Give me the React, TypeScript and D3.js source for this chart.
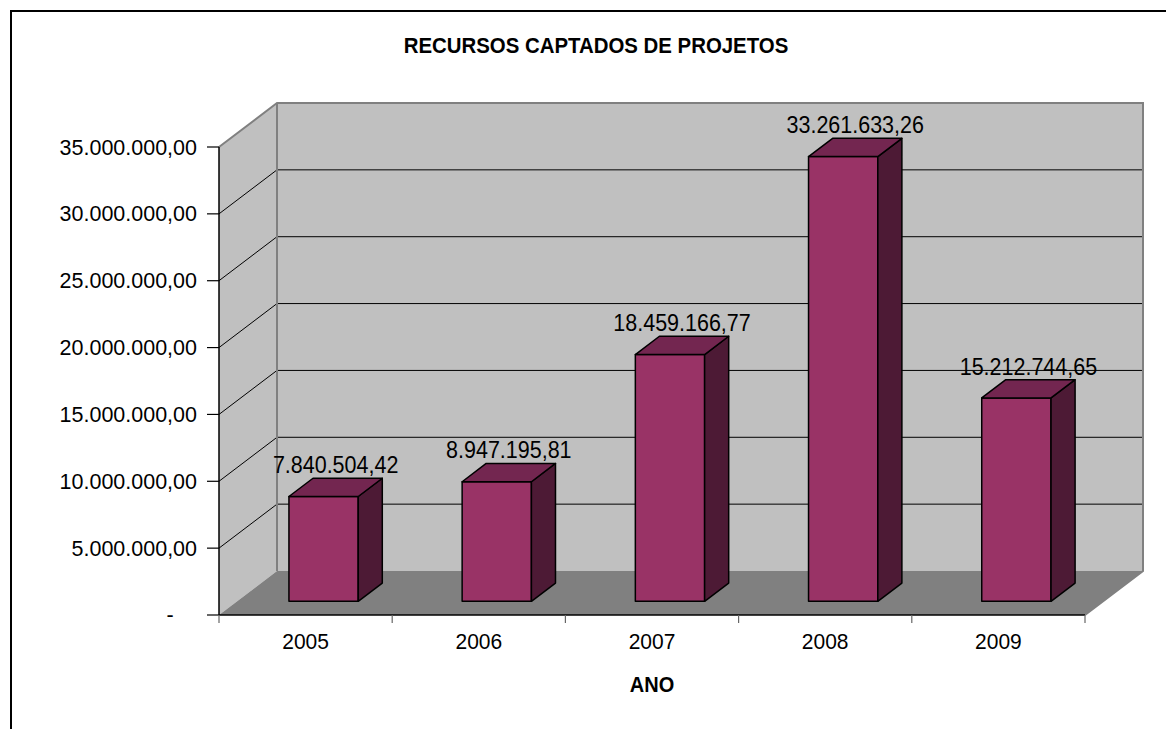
import React from 'react';
import * as d3 from 'd3';

// chart data
const years = ['2005', '2006', '2007', '2008', '2009'];
const valores = [7840504.42, 8947195.81, 18459166.77, 33261633.26, 15212744.65];
const titulo = 'RECURSOS CAPTADOS DE PROJETOS';
const tituloEixoX = 'ANO';

const W = 1166;
const H = 729;
const FONT = '"Liberation Sans", Arial, sans-serif';

// pt-BR number format: 35.000.000,00
const br = d3.formatLocale({ decimal: ',', thousands: '.', grouping: [3], currency: ['R$', ''] });
const fmt = br.format(',.2f');

const App = () => {
  // front plane of the 3D box
  const left = 219;
  const right = 1085;
  const depthX = 58;
  const depthY = -44;

  const y = d3.scaleLinear().domain([0, 35000000]).range([615, 147]);
  const x = d3.scaleBand().domain(years).range([left, right]).paddingInner(0.6).paddingOuter(0.3);
  const step = x.step();
  const bw = x.bandwidth();

  // depth of the bars inside the floor (0 = front, 1 = back)
  const d0 = 0.31;
  const d1 = 0.725;

  const proj = (px, v, d) => [px + d * depthX, y(v) + d * depthY];
  const poly = (pts) => pts.map(p => p.join(',')).join(' ');

  const ticks = y.ticks(7);
  const yMax = y.domain()[1];
  const base = y(0);

  return (
    <svg width={W} height={H} style={{ position: 'absolute', left: 0, top: 0, background: '#fff' }}
      fontFamily={FONT}>
      <rect x={0} y={0} width={W} height={H} fill="#fff" />
      {/* outer frame */}
      <path d={`M11,${H + 5}V11H${W + 5}`} fill="none" stroke="#000" strokeWidth={2} />

      {/* title */}
      <text transform={`translate(596,52.5) scale(1,1.06)`} textAnchor="middle" fontWeight="bold" fontSize={20.4}>
        {titulo}
      </text>

      {/* walls and floor */}
      <polygon points={poly([proj(left, 0, 0), proj(left, yMax, 0), proj(left, yMax, 1), proj(left, 0, 1)])}
        fill="#c0c0c0" />
      <polygon points={poly([proj(left, 0, 1), proj(left, yMax, 1), proj(right, yMax, 1), proj(right, 0, 1)])}
        fill="#c0c0c0" />
      <polygon points={poly([proj(left, 0, 0), proj(right, 0, 0), proj(right, 0, 1), proj(left, 0, 1)])}
        fill="#808080" />

      {/* gridlines */}
      {ticks.filter(t => t > 0 && t < yMax).map(t => (
        <g key={t}>
          <line x1={proj(left, t, 0)[0]} y1={proj(left, t, 0)[1]} x2={proj(left, t, 1)[0]} y2={proj(left, t, 1)[1]}
            stroke="#000" strokeWidth={1} />
          <line x1={proj(left, t, 1)[0]} y1={proj(left, t, 1)[1]} x2={proj(right, t, 1)[0]} y2={proj(right, t, 1)[1]}
            stroke="#000" strokeWidth={1} />
        </g>
      ))}

      {/* wall edges */}
      <polyline points={poly([proj(left, yMax, 0), proj(left, yMax, 1), proj(right, yMax, 1), proj(right, 0, 1), proj(right, 0, 0)])}
        fill="none" stroke="#808080" strokeWidth={2} />
      <line x1={proj(left, 0, 1)[0]} y1={proj(left, 0, 1)[1]} x2={proj(left, yMax, 1)[0]} y2={proj(left, yMax, 1)[1]}
        stroke="#808080" strokeWidth={2} />

      {/* bars */}
      {years.map((yr, i) => {
        const v = valores[i];
        const xa = x(yr);
        const xb = xa + bw;
        const front = [proj(xa, 0, d0), proj(xb, 0, d0), proj(xb, v, d0), proj(xa, v, d0)];
        const side = [proj(xb, 0, d0), proj(xb, 0, d1), proj(xb, v, d1), proj(xb, v, d0)];
        const top = [proj(xa, v, d0), proj(xb, v, d0), proj(xb, v, d1), proj(xa, v, d1)];
        const lx = xa + bw / 2 + ((d0 + d1) / 2) * depthX;
        const ly = y(v) + d1 * depthY - 5;
        return (
          <g key={yr} stroke="#000" strokeWidth={1.5} strokeLinejoin="round">
            <polygon points={poly(front)} fill="#993366" />
            <polygon points={poly(side)} fill="#4d1a35" />
            <polygon points={poly(top)} fill="#732650" />
            <text transform={`translate(${lx},${ly}) scale(1,1.08)`} textAnchor="middle" fontSize={21.5}
              stroke="none" fill="#000">
              {fmt(v)}
            </text>
          </g>
        );
      })}

      {/* value axis */}
      <line x1={left} y1={y(yMax)} x2={left} y2={base} stroke="#000" strokeWidth={1.5} />
      {ticks.map(t => (
        <g key={t}>
          <line x1={left - 12} y1={y(t)} x2={left} y2={y(t)} stroke="#000" strokeWidth={1.2} />
          {t === 0 ? (
            <text transform={`translate(170,${y(t) + 6.5}) scale(1,1.04)`} textAnchor="middle" fontSize={21.5}>-</text>
          ) : (
            <text transform={`translate(197,${y(t) + 7.5}) scale(1,1.04)`} textAnchor="end" fontSize={21.5}>
              {fmt(t)}
            </text>
          )}
        </g>
      ))}

      {/* category axis */}
      <line x1={left} y1={base} x2={right} y2={base} stroke="#000" strokeWidth={1.5} />
      {d3.range(years.length + 1).map(i => (
        <line key={i} x1={left + i * step} y1={base} x2={left + i * step} y2={base + 8}
          stroke="#666" strokeWidth={1.2} />
      ))}
      {years.map((yr, i) => (
        <text key={yr} transform={`translate(${left + (i + 0.5) * step},649) scale(1,1.08)`}
          textAnchor="middle" fontSize={21}>
          {yr}
        </text>
      ))}
      <text transform={`translate(${(left + right) / 2},692) scale(1,1.07)`} textAnchor="middle"
        fontWeight="bold" fontSize={20}>
        {tituloEixoX}
      </text>
    </svg>
  );
};

export default App;
